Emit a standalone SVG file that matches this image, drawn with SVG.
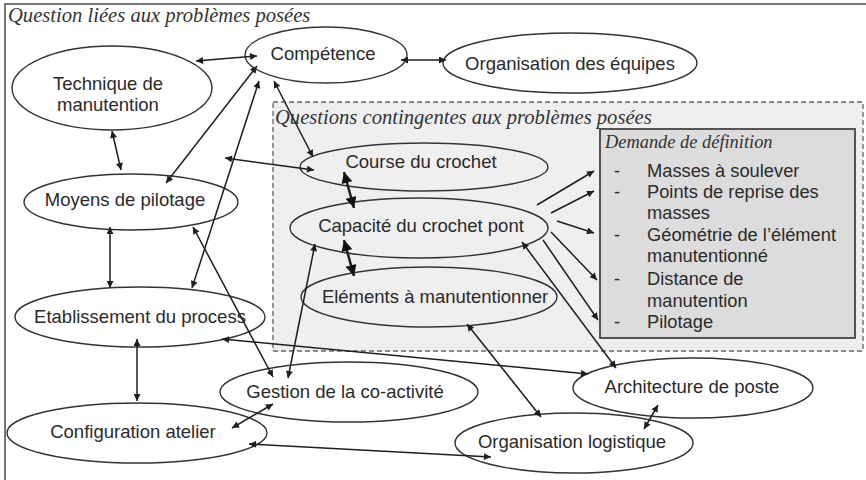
<svg xmlns="http://www.w3.org/2000/svg" width="866" height="480" viewBox="0 0 866 480">
<style>
.t{font-family:"Liberation Sans",Arial,sans-serif;font-size:18.5px;fill:#2a2a2a;text-anchor:middle}
.l{font-family:"Liberation Sans",Arial,sans-serif;font-size:18.3px;fill:#2a2a2a}
.h{font-family:"Liberation Serif","Times New Roman",serif;font-style:italic;font-size:20.6px;fill:#333}
.e{fill:#fff;stroke:#333;stroke-width:1.4}
.ei{fill:none;stroke:#333;stroke-width:1.4}
.c{fill:none;stroke:#1e1e1e;stroke-width:1.5;marker-start:url(#a);marker-end:url(#a)}
.s{fill:none;stroke:#1e1e1e;stroke-width:1.5;marker-end:url(#a)}
.k{fill:none;stroke:#1e1e1e;stroke-width:2.5;marker-start:url(#b);marker-end:url(#b)}
</style>
<defs>
<marker id="a" viewBox="0 0 10 10" refX="10" refY="5" markerWidth="9" markerHeight="7" markerUnits="userSpaceOnUse" orient="auto-start-reverse"><path d="M0,0 L10,5 L0,10 z" fill="#1e1e1e"/></marker>
<marker id="b" viewBox="0 0 10 10" refX="10" refY="5" markerWidth="13" markerHeight="11" markerUnits="userSpaceOnUse" orient="auto-start-reverse"><path d="M0,0 L10,5 L0,10 z" fill="#111"/></marker>
</defs>
<rect width="866" height="480" fill="#fff"/>
<path d="M5,480 V4 H866" fill="none" stroke="#777" stroke-width="2"/>
<text class="h" x="8" y="22">Question liées aux problèmes posées</text>
<g id="contingent">
<rect x="273" y="102" width="590" height="249" fill="#efefef" stroke="#666" stroke-width="1.3" stroke-dasharray="5,3"/>
<text class="h" x="275" y="124">Questions contingentes aux problèmes posées</text>
</g>
<g id="demande">
<rect x="600" y="129" width="255" height="209" fill="#dcdcdc" stroke="#444" stroke-width="1.8"/>
<text class="h" x="605" y="148" style="font-size:18.4px">Demande de définition</text>
<text class="l" x="614" y="177">-</text><text class="l" x="647" y="177">Masses à soulever</text>
<text class="l" x="614" y="198">-</text><text class="l" x="647" y="198">Points de reprise des</text>
<text class="l" x="647" y="219">masses</text>
<text class="l" x="614" y="241">-</text><text class="l" x="647" y="241">Géométrie de l’élément</text>
<text class="l" x="647" y="262">manutentionné</text>
<text class="l" x="614" y="285">-</text><text class="l" x="647" y="285">Distance de</text>
<text class="l" x="647" y="307">manutention</text>
<text class="l" x="614" y="328">-</text><text class="l" x="647" y="328">Pilotage</text>
</g>
<g id="competence"><ellipse class="e" cx="326" cy="55" rx="81" ry="28"/><text class="t" x="323" y="60">Compétence</text></g>
<g id="organisation-equipes"><ellipse class="e" cx="570" cy="63" rx="127" ry="30"/><text class="t" x="570" y="70">Organisation des équipes</text></g>
<g id="technique"><ellipse class="e" cx="112" cy="88" rx="100" ry="42"/><text class="t" x="108" y="90">Technique de</text><text class="t" x="108" y="111">manutention</text></g>
<g id="moyens"><ellipse class="e" cx="131" cy="202" rx="107" ry="28"/><text class="t" x="125" y="206">Moyens de pilotage</text></g>
<g id="etablissement"><ellipse class="e" cx="140" cy="317" rx="125" ry="30"/><text class="t" x="140" y="323">Etablissement du process</text></g>
<g id="configuration"><ellipse class="e" cx="137" cy="433" rx="130" ry="30"/><text class="t" x="133" y="438">Configuration atelier</text></g>
<g id="gestion"><ellipse class="e" cx="349" cy="392" rx="129" ry="30"/><text class="t" x="345" y="398">Gestion de la co-activité</text></g>
<g id="architecture"><ellipse class="e" cx="693" cy="388" rx="120" ry="30"/><text class="t" x="692" y="393">Architecture de poste</text></g>
<g id="logistique"><ellipse class="e" cx="574" cy="443" rx="119" ry="30"/><text class="t" x="572" y="448">Organisation logistique</text></g>
<g id="course"><ellipse class="ei" cx="424" cy="167" rx="124" ry="24"/><text class="t" x="421" y="168">Course du crochet</text></g>
<g id="capacite"><ellipse class="ei" cx="419" cy="228" rx="129" ry="30"/><text class="t" x="421" y="232">Capacité du crochet pont</text></g>
<g id="elements"><ellipse class="ei" cx="429" cy="297" rx="128" ry="30"/><text class="t" x="435" y="303">Eléments à manutentionner</text></g>
<g id="connectors">
<path class="c" d="M196,61 L257,56"/>
<path class="c" d="M112,131 L121,170"/>
<path class="c" d="M166,183 L257,66"/>
<path class="c" d="M192,288 L259,81"/>
<path class="c" d="M225,158 L314,170"/>
<path class="c" d="M274,81 L313,157"/>
<path class="c" d="M401,60 L446,60"/>
<path class="c" d="M110,227 L110,288"/>
<path class="c" d="M193,227 L273,377"/>
<path class="c" d="M315,244 L288,378"/>
<path class="k" d="M344,172 L354,208"/>
<path class="k" d="M344,240 L354,276"/>
<path class="s" d="M537,205 L594,171"/>
<path class="s" d="M551,213 L594,191"/>
<path class="s" d="M557,221 L594,233"/>
<path class="s" d="M551,232 L597,280"/>
<path class="s" d="M543,240 L598,320"/>
<path class="c" d="M522,242 L616,368"/>
<path class="c" d="M467,324 L541,417"/>
<path class="c" d="M222,339 L588,374"/>
<path class="c" d="M137,339 L137,401"/>
<path class="c" d="M232,428 L273,404"/>
<path class="c" d="M249,444 L491,457"/>
<path class="c" d="M658,405 L644,429"/>
</g>
</svg>
